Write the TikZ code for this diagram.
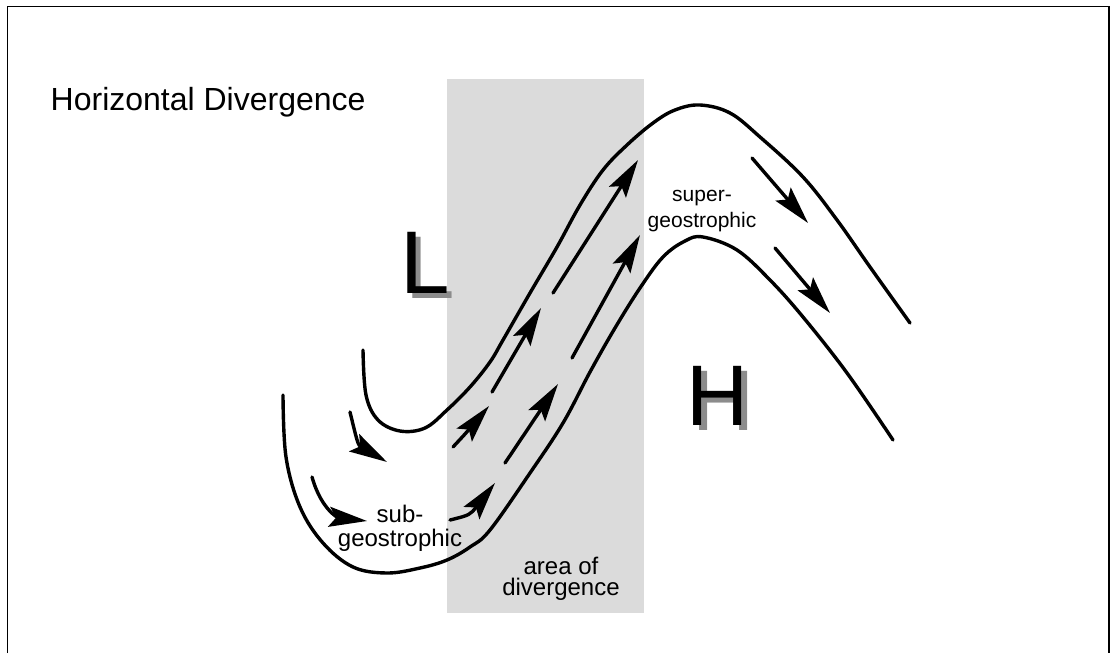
\documentclass[tikz,border=0pt]{standalone}
\usepackage{fontspec}
\setmainfont{Liberation Sans}
\usetikzlibrary{arrows.meta}
\begin{document}
\begin{tikzpicture}[x=1pt,y=-1pt,
  stream/.style={line width=3.4pt, line cap=round, line join=round},
  flow/.style={line width=3.4pt, line cap=round, -{Stealth[length=38pt,width=20pt,inset=7pt]}},
  lbl/.style={inner sep=0pt, anchor=north, align=center},
  lblsmall/.style={lbl, font=\fontsize{21}{26}\selectfont},
  lblbig/.style={lbl, font=\fontsize{24}{24}\selectfont},
  lblarea/.style={lbl, font=\fontsize{24}{21}\selectfont},
  bigL/.style={inner sep=0pt, anchor=base west, font=\fontsize{89}{89}\selectfont},
  bigH/.style={inner sep=0pt, anchor=base west, font=\fontsize{86}{86}\selectfont}]
\useasboundingbox (0,0) rectangle (1110,653);
\fill[white] (0,0) rectangle (1110,653);
\draw[line width=1.3pt] (7.5,653) -- (7.5,6.5) -- (1109,6.5) -- (1109,653);
\fill[gray!28] (447,79) rectangle (644,613);

\node[inner sep=0pt, anchor=base west, font=\fontsize{32}{32}\selectfont] (title) at (50.5,110) {Horizontal Divergence};

\node[bigL] (L) at (400.5,293) {\rlap{\hspace{5pt}\raisebox{-5pt}{\color{black!45}L}}L};
\node[bigH] (H) at (686,425) {\rlap{\hspace{6pt}\raisebox{-5pt}{\color{black!45}H}}H};

\node[lblsmall] (sup) at (702,190) {super-\\geostrophic};
\node[lblbig] (sub) at (400,505) {sub-\\geostrophic};
\node[lblarea] (area) at (561,556.5) {area of\\divergence};

% streamlines
\draw[stream] plot[smooth, tension=0.6] coordinates {(363,350) (366,395) (378,420) (400,431) (425,428) (447,410) (470,387) (490,362) (503,340) (530,293) (557,247) (580,205) (603,170) (627,145) (653,123) (675,110) (700,105) (730,113) (760,137) (803,177) (837,220) (870,267) (910,323)};
\draw[stream] plot[smooth, tension=0.6] coordinates {(283,395) (286,457) (300,507) (323,543) (353,567) (387,573) (420,568) (447,560) (470,547) (490,530) (530,473) (563,423) (590,372) (615,328) (640,288) (663,257) (685,241) (703,237) (737,250) (770,280) (803,317) (847,373) (893,440)};

% flow arrows
\coordinate (a1) at (350,412); \coordinate (a2) at (387,462);
\coordinate (b1) at (312,477); \coordinate (b2) at (367,521);
\coordinate (c1) at (453,447); \coordinate (c2) at (489,406);
\coordinate (d1) at (450,520); \coordinate (d2) at (495,483);
\coordinate (e1) at (505,463); \coordinate (e2) at (558,384);
\coordinate (f1) at (492,392); \coordinate (f2) at (541,308);
\coordinate (g1) at (553,293); \coordinate (g2) at (638,160);
\coordinate (h1) at (572,358); \coordinate (h2) at (640,235);
\coordinate (i1) at (752,158); \coordinate (i2) at (808,223);
\coordinate (j1) at (775,248); \coordinate (j2) at (830,313);

\draw[flow] (a1) .. controls (358,445) .. (a2);
\draw[flow] (b1) .. controls (322,512) and (340,518) .. (b2);
\draw[flow] (c1) .. controls (466,433) .. (c2);
\draw[flow] (d1) .. controls (470,515) .. (d2);
\draw[flow] (e1) -- (e2);
\draw[flow] (f1) -- (f2);
\draw[flow] (g1) -- (g2);
\draw[flow] (h1) -- (h2);
\draw[flow] (i1) -- (i2);
\draw[flow] (j1) -- (j2);
\end{tikzpicture}
\end{document}
